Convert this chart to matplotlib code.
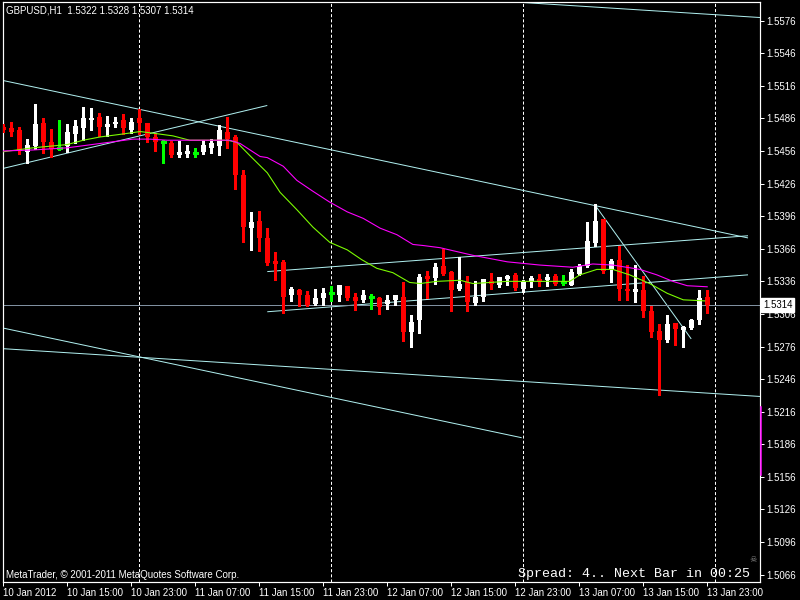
import matplotlib
matplotlib.use("Agg")
import matplotlib.pyplot as plt
from matplotlib.transforms import blended_transform_factory

# ---------------- data ----------------
opens = [1.5478, 1.5477, 1.5475, 1.5455, 1.5461, 1.5482, 1.5464, 1.5459, 1.5461, 1.5472,
         1.5477, 1.5485, 1.5487, 1.5478, 1.5481, 1.5485, 1.5475, 1.5486, 1.5482, 1.5469,
         1.5464, 1.5463, 1.5452, 1.5453, 1.5454, 1.5455, 1.5459, 1.5461, 1.5474, 1.5469,
         1.5434, 1.5385, 1.5392, 1.5376, 1.5355, 1.5354, 1.5323, 1.5328, 1.5323, 1.5315,
         1.5321, 1.5325, 1.5323, 1.5332, 1.5322, 1.5319, 1.5322, 1.5321, 1.5315, 1.5319,
         1.5322, 1.5289, 1.5300, 1.5341, 1.5339, 1.5350, 1.5345, 1.5329, 1.5335, 1.5316,
         1.5322, 1.5336, 1.5333, 1.5338, 1.5342, 1.5329, 1.5335, 1.5338, 1.5337, 1.5341,
         1.5335, 1.5333, 1.5343, 1.5350, 1.5371, 1.5393, 1.5347, 1.5356, 1.5329, 1.5326,
         1.5328, 1.5309, 1.5290, 1.5282, 1.5298, 1.5291, 1.5293, 1.5300, 1.5322]
highs = [1.5481, 1.5483, 1.5478, 1.5467, 1.5499, 1.5486, 1.5476, 1.5485, 1.5481, 1.5485,
         1.5497, 1.5496, 1.5491, 1.5488, 1.5487, 1.5490, 1.5486, 1.5495, 1.5482, 1.5473,
         1.5466, 1.5465, 1.5465, 1.5462, 1.5459, 1.5466, 1.5467, 1.5480, 1.5487, 1.5471,
         1.5439, 1.5400, 1.5401, 1.5385, 1.5363, 1.5356, 1.5331, 1.5329, 1.5327, 1.5329,
         1.5330, 1.5332, 1.5333, 1.5332, 1.5325, 1.5328, 1.5324, 1.5322, 1.5323, 1.5323,
         1.5335, 1.5305, 1.5343, 1.5346, 1.5353, 1.5366, 1.5346, 1.5358, 1.5341, 1.5336,
         1.5338, 1.5344, 1.5340, 1.5342, 1.5344, 1.5337, 1.5341, 1.5343, 1.5343, 1.5343,
         1.5342, 1.5347, 1.5352, 1.5391, 1.5407, 1.5393, 1.5357, 1.5369, 1.5351, 1.5351,
         1.5341, 1.5313, 1.5297, 1.5305, 1.5298, 1.5295, 1.5301, 1.5328, 1.5328]
lows = [1.5474, 1.5470, 1.5453, 1.5445, 1.5458, 1.5454, 1.5451, 1.5457, 1.5455, 1.5463,
        1.5466, 1.5475, 1.5470, 1.5470, 1.5478, 1.5472, 1.5473, 1.5472, 1.5464, 1.5456,
        1.5445, 1.5451, 1.5451, 1.5451, 1.5451, 1.5453, 1.5454, 1.5452, 1.5459, 1.5421,
        1.5372, 1.5365, 1.5364, 1.5351, 1.5337, 1.5307, 1.5318, 1.5313, 1.5313, 1.5314,
        1.5314, 1.5318, 1.5318, 1.5319, 1.5310, 1.5317, 1.5311, 1.5306, 1.5311, 1.5314,
        1.5281, 1.5276, 1.5288, 1.5321, 1.5334, 1.5342, 1.5309, 1.5328, 1.5309, 1.5314,
        1.5318, 1.5329, 1.5331, 1.5333, 1.5328, 1.5326, 1.5331, 1.5332, 1.5332, 1.5333,
        1.5333, 1.5333, 1.5342, 1.5349, 1.5369, 1.5344, 1.5335, 1.5319, 1.5319, 1.5317,
        1.5303, 1.5285, 1.5231, 1.5280, 1.5277, 1.5276, 1.5292, 1.5297, 1.5307]
closes = [1.5475, 1.5474, 1.5456, 1.5462, 1.5481, 1.5464, 1.5458, 1.5459, 1.5474, 1.5479,
          1.5486, 1.5486, 1.5478, 1.5481, 1.5483, 1.5477, 1.5483, 1.5482, 1.5469, 1.5464,
          1.5464, 1.5452, 1.5455, 1.5456, 1.5454, 1.5462, 1.5463, 1.5475, 1.5467, 1.5434,
          1.5386, 1.5391, 1.5376, 1.5353, 1.5352, 1.5322, 1.5329, 1.5323, 1.5314, 1.5321,
          1.5325, 1.5325, 1.5333, 1.5321, 1.5318, 1.5323, 1.5322, 1.5312, 1.5319, 1.5323,
          1.5289, 1.5299, 1.5340, 1.5338, 1.5349, 1.5343, 1.5328, 1.5334, 1.5317, 1.5322,
          1.5338, 1.5334, 1.5340, 1.5341, 1.5330, 1.5335, 1.5339, 1.5335, 1.5340, 1.5334,
          1.5335, 1.5345, 1.5350, 1.5373, 1.5392, 1.5346, 1.5355, 1.5329, 1.5327, 1.5329,
          1.5309, 1.5289, 1.5282, 1.5297, 1.5292, 1.5294, 1.5300, 1.5321, 1.5314]

# fast moving average (green), read at sampled bars
ma_fast_x = [-0.4, 3.7, 8.0, 10.0, 12.1, 14.2, 16.2, 17.1, 19.2, 21.2, 23.3, 25.5, 28.0, 29.2,
             30.8, 33.0, 34.6, 36.7, 38.7, 40.8, 43.0, 44.8, 46.7, 48.7, 50.8, 52.1, 54.2,
             57.1, 58.7, 63.0, 67.1, 70.8, 72.1, 74.2, 76.2, 78.3, 80.8, 83.0, 85.0, 87.7]
ma_fast_y = [1.5455, 1.5459, 1.5462, 1.5466, 1.5469, 1.5471, 1.5473, 1.5474, 1.5472, 1.5470,
             1.5466, 1.5466, 1.5466, 1.5464, 1.5452, 1.5436, 1.5418, 1.5402, 1.5386, 1.5372,
             1.5365, 1.5356, 1.5348, 1.5344, 1.5335, 1.5334, 1.5336, 1.5337, 1.5334, 1.5336,
             1.5336, 1.5336, 1.5342, 1.5347, 1.5347, 1.5342, 1.5334, 1.5325, 1.5319, 1.5318]
# slow moving average (magenta)
ma_slow_x = [-0.4, 3.7, 8.0, 12.1, 16.2, 18.3, 20.5, 24.6, 28.3, 29.6, 32.1, 33.0, 35.0, 36.7,
             38.7, 40.8, 43.0, 45.0, 47.1, 49.2, 51.2, 52.5, 54.6, 58.7, 63.0, 67.1, 71.2,
             73.7, 76.2, 79.6, 81.7, 83.7, 85.5, 88.0]
ma_slow_y = [1.5456, 1.5457, 1.5459, 1.5463, 1.5467, 1.5467, 1.5466, 1.5466, 1.5466, 1.5463,
             1.5451, 1.5450, 1.5442, 1.5429, 1.5419, 1.5409, 1.5400, 1.5394, 1.5385, 1.5379,
             1.5370, 1.5369, 1.5367, 1.5360, 1.5354, 1.5351, 1.5349, 1.5352, 1.5351, 1.5347,
             1.5342, 1.5336, 1.5332, 1.5331]

# trend lines: (bar0, price0, bar1, price1)
trend_lines = [
    (-0.04, 1.5521, 93.1, 1.5376),
    (-0.04, 1.5440, 33.0, 1.5498),
    (33.0, 1.5345, 93.1, 1.5378),
    (33.0, 1.5308, 93.1, 1.5342),
    (74.0, 1.5406, 86.0, 1.5283),
    (-0.04, 1.5293, 64.8, 1.5192),
    (-0.04, 1.5274, 94.6, 1.5230),
    (64.6, 1.5593, 94.6, 1.5579),
]
current_price = 1.5314
day_separators = [17, 41, 65, 89]

x_tick_bars = [0, 8, 16, 24, 32, 40, 48, 56, 64, 72, 80, 88]
x_tick_labels = ["10 Jan 2012", "10 Jan 15:00", "10 Jan 23:00", "11 Jan 07:00", "11 Jan 15:00",
                 "11 Jan 23:00", "12 Jan 07:00", "12 Jan 15:00", "12 Jan 23:00", "13 Jan 07:00",
                 "13 Jan 15:00", "13 Jan 23:00"]
y_ticks = [1.5576, 1.5546, 1.5516, 1.5486, 1.5456, 1.5426, 1.5396, 1.5366, 1.5336, 1.5306,
           1.5276, 1.5246, 1.5216, 1.5186, 1.5156, 1.5126, 1.5096, 1.5066]

header = "GBPUSD,H1  1.5322 1.5328 1.5307 1.5314"
copyright_text = "MetaTrader, \u00a9 2001-2011 MetaQuotes Software Corp."
spread_text = "Spread: 4.. Next Bar in 00:25"

# ---------------- drawing ----------------
plt.rcParams['font.family'] = ['Liberation Sans', 'DejaVu Sans']
plt.rcParams['lines.scale_dashes'] = False

W, H = 800, 600
fig = plt.figure(figsize=(8, 6), dpi=100, facecolor='black')
ax = fig.add_axes([3 / W, 1 - 582 / H, 757 / W, 580 / H], facecolor='black')

PX = 0.72  # one pixel in points
LINE_C = '#AFEEEE'

# day separators
for d in day_separators:
    ax.axvline(d, color='white', lw=PX, ls=(0, (2.2, 1.5)), zorder=1)

# trend lines
for (x0, y0, x1, y1) in trend_lines:
    ax.plot([x0, x1], [y0, y1], color=LINE_C, lw=PX, zorder=2, solid_capstyle='butt')

# current price line
ax.axhline(current_price, color='#8090A0', lw=PX, zorder=2)

# candles
bw = 0.64
for i, (o, h, l, c) in enumerate(zip(opens, highs, lows, closes)):
    if c > o:
        col = 'white'
    elif c < o:
        col = '#FF0000'
    else:
        col = '#00FF00'
    ax.vlines(i, l, h, color=col, lw=PX * 1.2, zorder=3, antialiased=False)
    if c == o:
        ax.hlines(o, i - bw / 2, i + bw / 2, color=col, lw=PX * 1.2, zorder=3, antialiased=False)
    else:
        ax.bar(i, abs(c - o), bottom=min(o, c), width=bw, color=col, lw=0, zorder=3,
               antialiased=False)

# moving averages
ax.plot(ma_fast_x, ma_fast_y, color='#7CFC00', lw=PX * 1.1, zorder=4)
ax.plot(ma_slow_x, ma_slow_y, color='#FF00FF', lw=PX * 1.1, zorder=4)

ax.set_xlim(-0.04, 94.6)
ax.set_ylim(1.50591, 1.55933)

for s in ax.spines.values():
    s.set_color('white')
    s.set_linewidth(PX * 1.2)

ax.yaxis.tick_right()
ax.set_yticks(y_ticks)
ax.set_yticklabels([f"{v:.4f}" for v in y_ticks])
ax.tick_params(axis='y', colors='white', length=3, width=PX, pad=1.5, labelsize=7)
ax.set_xticks(x_tick_bars)
ax.set_xticklabels(x_tick_labels)
ax.tick_params(axis='x', colors='white', length=3, width=PX, pad=1.5, labelsize=7)
for lbl in ax.get_xticklabels():
    lbl.set_ha('left')

# price box
tr = blended_transform_factory(ax.transAxes, ax.transData)
ax.text(1.004, current_price, "1.5314", transform=tr, fontsize=7, color='black',
        va='center', ha='left', zorder=10, clip_on=False,
        bbox=dict(facecolor='white', edgecolor='white', boxstyle='square,pad=0.2'))

# side marker on right axis
ax.plot([1.0015, 1.0015], [1.5220, 1.5158], transform=tr, color='#FF00FF', lw=PX * 1.5,
        clip_on=False, zorder=10)

fig.text(6 / W, 1 - 10.5 / H, header, color='white', fontsize=7, va='center', ha='left')
fig.text(6 / W, 1 - 575 / H, copyright_text, color='white', fontsize=7, va='center', ha='left')
fig.text(518 / W, 1 - 573.5 / H, spread_text, color='white', fontsize=9.6, va='center',
         ha='left', family=['Liberation Mono', 'DejaVu Sans Mono'])
fig.text(753 / W, 1 - 560 / H, "\u2620", color='#888888', fontsize=6, va='center', ha='center',
         family=['DejaVu Sans'])

fig.savefig("out.png", dpi=100, facecolor='black')
